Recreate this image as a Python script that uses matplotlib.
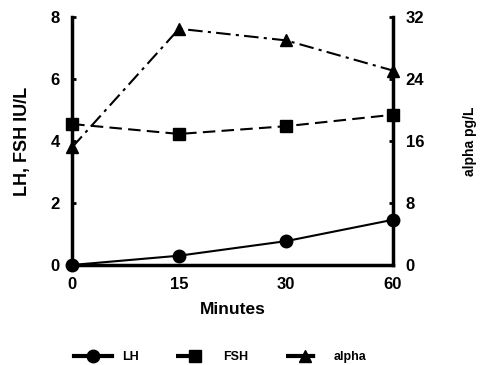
import matplotlib
matplotlib.use("Agg")
import matplotlib.pyplot as plt

minutes = ["0", "15", "30", "60"]
lh = [0.0, 0.3, 0.77, 1.46]
fsh = [4.55, 4.23, 4.48, 4.85]
alpha = [15.2, 30.5, 29.0, 25.1]

plt.rcParams["font.family"] = ["Liberation Sans", "DejaVu Sans"]
plt.rcParams["font.weight"] = "bold"

fig = plt.figure(figsize=(4.84, 3.65), dpi=100)
ax = fig.add_axes([0.149, 0.274, 0.663, 0.679])
ax2 = ax.twinx()

x = list(range(len(minutes)))
l1, = ax.plot(x, lh, color="black", lw=1.5, marker="o", ms=9, ls="-", clip_on=False, zorder=5)
l2, = ax.plot(x, fsh, color="black", lw=1.5, marker="s", ms=9, ls=(0, (6, 3)), clip_on=False, zorder=5)
l3, = ax2.plot(x, alpha, color="black", lw=1.5, marker="^", ms=9, ls=(0, (7, 2.5, 1.5, 2.5)), clip_on=False, zorder=5)

ax.set_xlim(0, 3)
ax.set_ylim(0, 8)
ax2.set_ylim(0, 32)
ax.set_yticks([0, 2, 4, 6, 8])
ax2.set_yticks([0, 8, 16, 24, 32])
ax.set_xticks(x)
ax.set_xticklabels(minutes)

for a in (ax, ax2):
    a.spines["top"].set_visible(False)
    for s in ("left", "right", "bottom"):
        a.spines[s].set_linewidth(2.5)
ax.spines["right"].set_visible(False)
ax2.spines["left"].set_visible(False)
ax2.spines["bottom"].set_visible(False)

ax.tick_params(axis="y", direction="in", length=3, width=2, labelsize=12, pad=9)
ax2.tick_params(axis="y", direction="in", length=3, width=2, labelsize=12, pad=9)
ax.tick_params(axis="x", length=0, labelsize=12, pad=9)

ax.set_xlabel("Minutes", fontsize=12.5, fontweight="bold", labelpad=7)
ax.set_ylabel("LH, FSH IU/L", fontsize=13, fontweight="bold", labelpad=14)
ax2.set_ylabel("alpha pg/L", fontsize=10, fontweight="bold", labelpad=28)

leg = fig.legend([l1, l2, l3], ["LH", "FSH", "alpha"], loc="lower center",
                 bbox_to_anchor=(0.455, -0.025), ncol=3, frameon=False, fontsize=9,
                 handlelength=3, columnspacing=3.0, handletextpad=0.8)
for h in leg.legend_handles:
    h.set_linewidth(3)

fig.savefig("out.png", dpi=100)
